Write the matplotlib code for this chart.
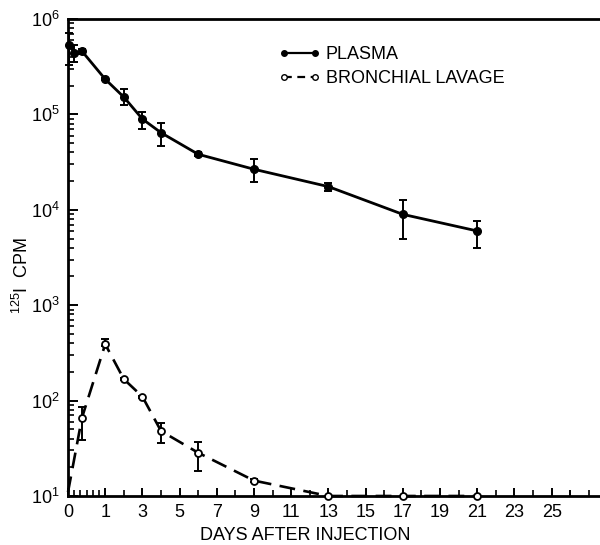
import numpy as np
import matplotlib
matplotlib.use("Agg")
import matplotlib.pyplot as plt
from matplotlib.ticker import FixedLocator, NullFormatter, LogLocator
from matplotlib.lines import Line2D

plt.rcParams['font.family'] = ['Liberation Sans', 'DejaVu Sans']
plt.rcParams['mathtext.fontset'] = 'custom'
plt.rcParams['mathtext.rm'] = 'Liberation Sans'
plt.rcParams['mathtext.it'] = 'Liberation Sans'
plt.rcParams['mathtext.default'] = 'regular'

# ---- data ----
plasma_days = [0.04, 0.17, 0.375, 1, 2, 3, 4, 6, 9, 13, 17, 21]
plasma_cpm = [5.4e5, 4.4e5, 4.6e5, 2.34e5, 1.52e5, 8.95e4, 6.43e4, 3.82e4, 2.66e4, 1.75e4, 8.96e3, 6.0e3]
plasma_hi = [7.2e5, 5.4e5, 4.9e5, 2.4e5, 1.83e5, 1.07e5, 8.18e4, 4.0e4, 3.38e4, 1.89e4, 1.27e4, 7.7e3]
plasma_lo = [3.3e5, 3.5e5, 4.3e5, 2.28e5, 1.26e5, 6.98e4, 4.67e4, 3.65e4, 1.97e4, 1.59e4, 4.9e3, 3.95e3]

lavage_days = [0, 0.375, 1, 2, 3, 4, 6, 9, 13, 17, 21]
lavage_cpm = [11, 66, 390, 168, 110, 48, 28.4, 14.5, 10, 10, 10]
lavage_hi = [11, 86, 443, 172, 113, 58.7, 37, 15, 10, 10, 10]
lavage_lo = [11, 38.6, 378, 164, 107, 36, 18.4, 14, 10, 10, 10]

xtick_days = [0, 1, 3, 5, 7, 9, 11, 13, 15, 17, 19, 21, 23, 25]
xtick_labels = [str(d) for d in xtick_days]


def fwd(x):
    x = np.asarray(x, dtype=float)
    return np.where(x < 1, 2 * x, x + 1)


def inv(p):
    p = np.asarray(p, dtype=float)
    return np.where(p < 2, p / 2, p - 1)


fig = plt.figure(figsize=(6.0, 5.45), dpi=100)
ax = fig.add_axes([68 / 600, 1 - 496 / 545, 1 - 68 / 600, (496 - 19) / 545])
ax.set_xscale('function', functions=(fwd, inv))
ax.set_yscale('log')

pe = [np.array(plasma_cpm) - np.array(plasma_lo), np.array(plasma_hi) - np.array(plasma_cpm)]
ax.errorbar(plasma_days, plasma_cpm, yerr=pe, color='black', lw=2.0, marker='o',
            ms=5.5, mfc='black', mec='black', capsize=3, elinewidth=1.4, capthick=1.4,
            label='PLASMA', clip_on=False, zorder=3)

le = [np.array(lavage_cpm) - np.array(lavage_lo), np.array(lavage_hi) - np.array(lavage_cpm)]
ax.errorbar(lavage_days[1:], lavage_cpm[1:], yerr=[le[0][1:], le[1][1:]], fmt='none',
            ecolor='black', capsize=3, elinewidth=1.4, capthick=1.4, clip_on=False, zorder=3)
ax.plot(lavage_days, lavage_cpm, color='black', lw=1.9, ls=(0, (6, 3.2)), zorder=3,
        clip_on=False)
ax.plot(lavage_days[1:], lavage_cpm[1:], ls='none', marker='o', ms=5, mfc='white',
        mec='black', mew=1.3, zorder=4, clip_on=False)

# legend proxies
h1 = Line2D([], [], color='black', lw=1.6, marker='o', ms=4, mfc='black')
h2 = Line2D([], [], color='black', lw=1.6, ls=(0, (3.5, 2.5)), marker='o', ms=4, mfc='white', mec='black')
ax.legend([h1, h2], ['PLASMA', 'BRONCHIAL LAVAGE'], loc='upper left',
          bbox_to_anchor=(279 / 600, 1 - 46 / 545), bbox_transform=fig.transFigure,
          frameon=False, numpoints=2, handlelength=2.3, handletextpad=0.3,
          borderpad=0, borderaxespad=0, labelspacing=0.4, fontsize=13)

ax.set_xlim(0, 27.6)
ax.set_ylim(10, 1e6)

ax.xaxis.set_major_locator(FixedLocator(xtick_days))
ax.set_xticklabels(xtick_labels)
minor_x = [1 / 6, 2 / 6, 3 / 6, 4 / 6, 5 / 6] + list(range(2, 28, 2)) + [26, 27]
ax.xaxis.set_minor_locator(FixedLocator(minor_x))
ax.xaxis.set_minor_formatter(NullFormatter())

ax.yaxis.set_major_locator(LogLocator(base=10, numticks=10))
ax.yaxis.set_minor_locator(LogLocator(base=10, subs=np.arange(2, 10), numticks=20))
ax.yaxis.set_minor_formatter(NullFormatter())

ax.tick_params(axis='both', which='major', direction='in', length=7, width=1.4,
               labelsize=13, pad=6, top=False, right=False)
ax.tick_params(axis='both', which='minor', direction='in', length=4, width=1.2,
               top=False, right=False)
ax.tick_params(axis='x', which='major', length=6)

for s in ['left', 'bottom', 'top']:
    ax.spines[s].set_linewidth(2.0)
ax.spines['right'].set_visible(False)

fig.text(305 / 600, 1 - 536 / 545, 'DAYS AFTER INJECTION', ha='center', va='center', fontsize=13)
fig.text(22 / 600, 1 - 275 / 545, '$^{125}$I  CPM', ha='center', va='center', rotation=90, fontsize=13)

fig.savefig('out.png', dpi=100)
